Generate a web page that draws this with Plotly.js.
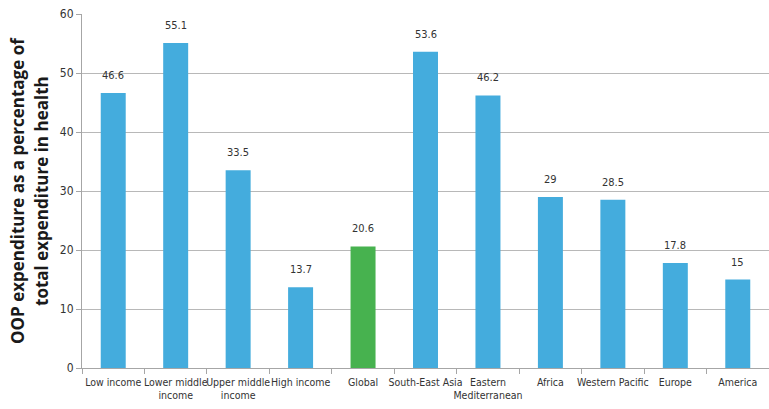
<!DOCTYPE html>
<html>
<head>
<meta charset="utf-8">
<script src="https://cdn.plot.ly/plotly-3.0.1.min.js"></script>
<style>html,body{margin:0;padding:0;background:#fff;}#chart{width:769px;height:409px;}</style>
</head>
<body>
<div id="chart"></div>
<script>
const categories = ["Low income", "Lower middle<br>income", "Upper middle<br>income", "High income", "Global", "South-East Asia", "Eastern<br>Mediterranean", "Africa", "Western Pacific", "Europe", "America"];
const values = [46.6, 55.1, 33.5, 13.7, 20.6, 53.6, 46.2, 29, 28.5, 17.8, 15];
const barColors = ["#44ACDD", "#44ACDD", "#44ACDD", "#44ACDD", "#47B24F", "#44ACDD", "#44ACDD", "#44ACDD", "#44ACDD", "#44ACDD", "#44ACDD"];
const yTitleLines = ["OOP expenditure as a percentage of", "total expenditure in health"];

const narrow = "DejaVu Sans Condensed, DejaVu Sans, sans-serif";

const trace = {
  type: "bar",
  x: categories,
  y: values,
  marker: {color: barColors},
  width: 0.4,
  hoverinfo: "x+y"
};

const annotations = categories.map((c, i) => ({
  x: c, y: values[i], xref: "x", yref: "y",
  text: String(values[i]),
  showarrow: false, yanchor: "bottom", yshift: 9,
  font: {family: narrow, size: 11, color: "#333333"}
}));

// y-axis title drawn as two rotated lines (reference line spacing is wider than Plotly's default)
const titleFont = {family: "Open Sans, sans-serif", size: 17, color: "#1a1a1a", weight: "bold"};
annotations.push({
  xref: "paper", yref: "paper", x: (17 - 82) / 687, y: 0.5,
  xanchor: "center", yanchor: "middle", textangle: -90, showarrow: false,
  text: yTitleLines[0], font: titleFont
});
annotations.push({
  xref: "paper", yref: "paper", x: (41 - 82) / 687, y: 0.5,
  xanchor: "center", yanchor: "middle", textangle: -90, showarrow: false,
  text: yTitleLines[1], font: titleFont
});

const layout = {
  width: 769, height: 409,
  margin: {l: 82, r: 0, t: 14, b: 41},
  paper_bgcolor: "#ffffff", plot_bgcolor: "#ffffff",
  showlegend: false,
  bargap: 0.6,
  xaxis: {
    type: "category",
    showline: true, linecolor: "#A6A6A6", linewidth: 1,
    ticks: "outside", tickson: "boundaries", ticklen: 5, tickcolor: "#A6A6A6",
    tickfont: {family: narrow, size: 10.5, color: "#333333"},
    ticklabelstandoff: 4,
    showgrid: false, tickangle: 0, automargin: false
  },
  yaxis: {
    range: [0, 60], dtick: 10, tick0: 0,
    showline: true, linecolor: "#A6A6A6", linewidth: 1,
    ticks: "outside", ticklen: 5, tickcolor: "#A6A6A6",
    tickfont: {family: narrow, size: 12, color: "#333333"},
    showgrid: true, gridcolor: "#B8B8B8", gridwidth: 1,
    zeroline: false, automargin: false
  },
  annotations: annotations
};

Plotly.newPlot("chart", [trace], layout, {displayModeBar: false, staticPlot: true});
</script>
</body>
</html>
